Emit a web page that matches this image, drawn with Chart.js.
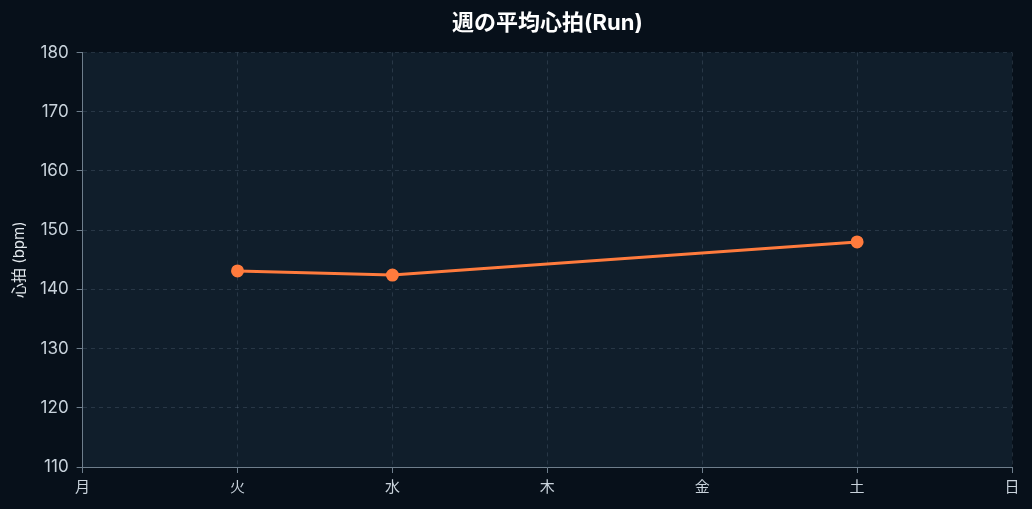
<!DOCTYPE html>
<html>
<head>
<meta charset="utf-8">
<script src="https://cdn.jsdelivr.net/npm/chart.js@4.4.1/dist/chart.umd.min.js"></script>
<style>
  html, body { margin: 0; padding: 0; background: #07101a; }
  #wrap { width: 1032px; height: 509px; }
</style>
</head>
<body>
<div id="wrap"><canvas id="hrChart"></canvas></div>
<script>
const days = ['月', '火', '水', '木', '金', '土', '日'];
const avgHr = [null, 143.1, 142.4, null, null, 148.0, null];
const yMin = 110;
const yMax = 180;
const yStep = 10;

const FONT = "Inter, 'Noto Sans CJK JP', sans-serif";

const plotBg = {
    id: 'plotBg',
    beforeDraw(chart) {
        const { ctx, chartArea: a } = chart;
        ctx.save();
        ctx.fillStyle = '#101e2b';
        ctx.fillRect(a.left, a.top, a.right - a.left, a.bottom - a.top);
        ctx.restore();
    }
};

new Chart(document.getElementById('hrChart'), {
    type: 'line',
    data: {
        labels: days,
        datasets: [{
            label: '平均心拍',
            data: avgHr,
            borderColor: '#ff7b3d',
            backgroundColor: '#ff7b3d',
            borderWidth: 3,
            pointRadius: 5,
            pointHoverRadius: 6,
            tension: 0,
            spanGaps: true
        }]
    },
    options: {
        responsive: true,
        maintainAspectRatio: false,
        animation: false,
        layout: { padding: { left: 10, right: 20, top: 0, bottom: 8 } },
        plugins: {
            legend: { display: false },
            title: {
                display: true,
                fullSize: false,
                text: '週の平均心拍(Run)',
                color: '#ffffff',
                font: { family: FONT, size: 22, weight: 'bold' },
                padding: { top: 10, bottom: 16 }
            }
        },
        scales: {
            x: {
                offset: false,
                grid: {
                    color: 'rgba(110,130,150,0.25)',
                    tickColor: '#6e7e8c',
                    tickLength: 6
                },
                border: { color: '#6e7e8c', dash: [4, 4] },
                ticks: { color: '#c9d3dc', font: { family: FONT, size: 15 }, padding: 5 },
            },
            y: {
                min: yMin,
                max: yMax,
                grid: {
                    color: 'rgba(110,130,150,0.25)',
                    tickColor: '#6e7e8c',
                    tickLength: 6
                },
                border: { color: '#6e7e8c', dash: [4, 4] },
                ticks: { stepSize: yStep, color: '#c9d3dc', font: { family: FONT, size: 17 }, padding: 8 },
                title: {
                    display: true,
                    text: '心拍 (bpm)',
                    color: '#e3e9ee',
                    font: { family: FONT, size: 15 },
                    padding: { top: 0, bottom: 4 }
                }
            }
        }
    },
    plugins: [plotBg]
});
</script>
</body>
</html>
